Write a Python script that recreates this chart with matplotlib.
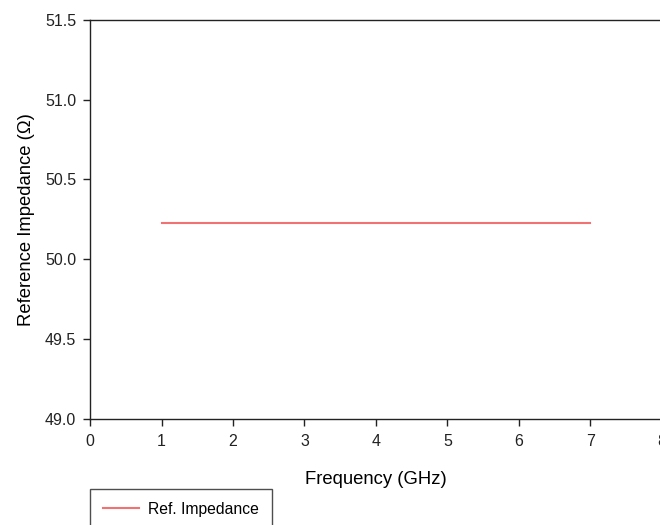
import numpy as np
import matplotlib.pyplot as plt

plt.rcParams['font.family'] = ['Liberation Sans', 'DejaVu Sans']

# reference impedance over the sweep (GHz, ohm)
freq = [1, 2, 3, 4, 5, 6, 7]
z_ref = [50.23, 50.23, 50.23, 50.23, 50.23, 50.23, 50.23]

x_ticks = [0, 1, 2, 3, 4, 5, 6, 7, 8]
y_ticks = [49.0, 49.5, 50.0, 50.5, 51.0, 51.5]

fig = plt.figure(figsize=(6.6, 5.25), dpi=100)
ax = fig.add_axes([90 / 660, 1 - 418.7 / 525, 572 / 660, 398.7 / 525])

ax.plot(freq, z_ref, color='#f07272', linewidth=1.5, label='Ref. Impedance')

ax.set_xlim(0, 8)
ax.set_ylim(49.0, 51.5)
ax.set_xticks(x_ticks)
ax.set_yticks(y_ticks)
ax.set_yticklabels(['%.1f' % v for v in y_ticks])

ax.spines['right'].set_visible(False)
for s in ['left', 'top', 'bottom']:
    ax.spines[s].set_linewidth(1.0)
    ax.spines[s].set_color('#222222')

ax.tick_params(axis='both', direction='out', length=5, width=1, labelsize=11.5, colors='#222222')
ax.tick_params(axis='x', pad=6)
ax.tick_params(axis='y', pad=5)

ax.set_xlabel('Frequency (GHz)', fontsize=13.3, labelpad=16)
ax.set_ylabel('Reference Impedance (Ω)', fontsize=13.3, labelpad=7)

leg = ax.legend(loc='upper left', bbox_to_anchor=(90 / 660, 1 - 489 / 525),
                bbox_transform=fig.transFigure, fancybox=False, frameon=True,
                edgecolor='#222222', fontsize=11.3, borderaxespad=0,
                handlelength=2.3, borderpad=0.8, handletextpad=0.6)
leg.get_frame().set_linewidth(1.0)

fig.savefig('out.png', dpi=100)
